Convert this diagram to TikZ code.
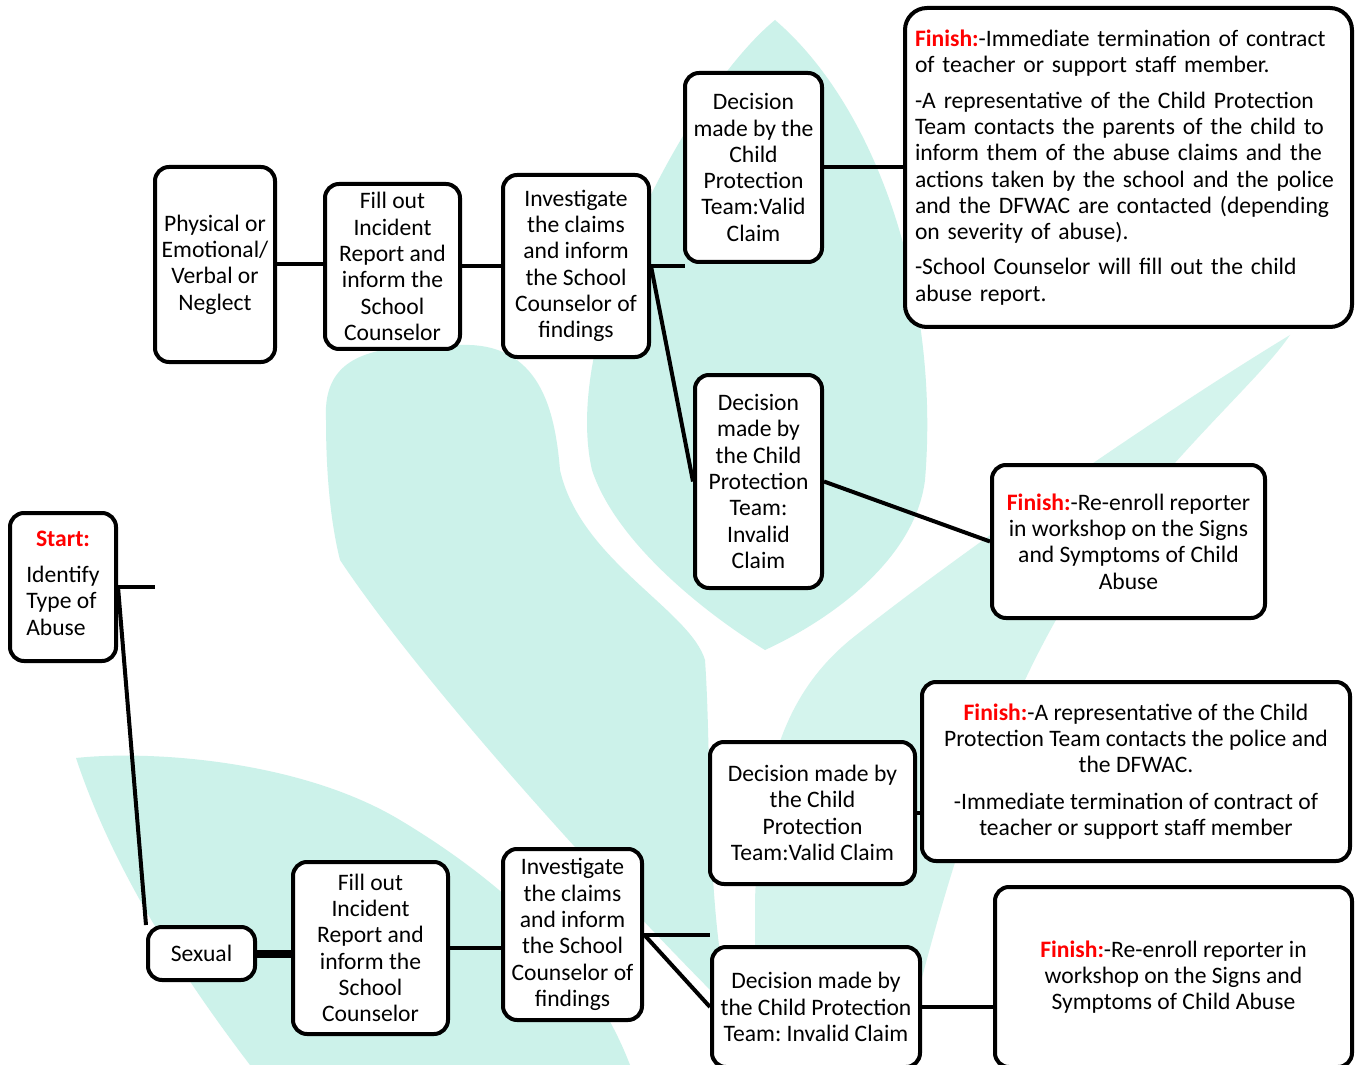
\documentclass[tikz,border=0pt]{standalone}
\usepackage{fontspec}
\setmainfont{Carlito}
\usepackage{tikz}
\definecolor{leaf}{RGB}{204,242,234}
\frenchspacing

\begin{document}
\begin{tikzpicture}[x=0.5pt, y=-0.5pt,
    box/.style={draw, line width=2pt, rounded corners=7pt, fill=white, align=center, inner sep=0pt},
    wire/.style={line width=2pt},
    font=\fontsize{11.8}{13.15}\selectfont]

    \useasboundingbox (0,0) rectangle (1357,1065);
    \fill [white] (0,0) rectangle (1357,1065);

    % watermark leaves behind the chart
    \fill [leaf] (775,20) .. controls (880,110) and (940,300) .. (925,480)
        .. controls (915,560) and (830,620) .. (765,650)
        .. controls (700,610) and (615,540) .. (592,470)
        .. controls (560,330) and (690,90) .. (775,20);
    \fill [leaf] (326,420) .. controls (322,350) and (380,345) .. (460,345)
        .. controls (540,342) and (555,410) .. (560,470)
        .. controls (580,560) and (690,610) .. (705,660)
        .. controls (712,760) and (705,900) .. (730,1010)
        .. controls (600,880) and (420,680) .. (340,560)
        .. controls (330,520) and (326,470) .. (326,420);
    \fill [leaf] (76,758) .. controls (150,750) and (300,760) .. (400,820)
        .. controls (500,880) and (590,960) .. (630,1065) -- (250,1065)
        .. controls (170,960) and (110,860) .. (76,758);
    \fill [leaf!85] (1290,335) .. controls (1150,420) and (950,560) .. (850,640)
        .. controls (790,690) and (760,760) .. (755,900) -- (755,1065) -- (900,1065)
        .. controls (940,900) and (990,720) .. (1080,580)
        .. controls (1170,455) and (1260,380) .. (1290,335);

    % start
    \node [box, minimum width=53pt, minimum height=74pt] (start) at (63,587)
        {\textcolor{red}{\textbf{Start:}}\\[5pt]
         \begin{tabular}[t]{@{}l@{}}Identify\\ Type of\\ Abuse\end{tabular}};

    % physical / emotional / verbal / neglect branch
    \node [box, minimum width=60pt, minimum height=97.5pt] (phys) at (215,264.5)
        {Physical or\\ Emotional/\\ Verbal or\\ Neglect};
    \node [box, minimum width=67.5pt, minimum height=82.5pt] (fill1) at (392.5,266.5)
        {Fill out\\ Incident\\ Report and\\ inform the\\ School\\ Counselor};
    \node [box, minimum width=73pt, minimum height=91pt] (inv1) at (576,266)
        {Investigate\\ the claims\\ and inform\\ the School\\ Counselor of\\ findings};
    \node [box, minimum width=68.5pt, minimum height=94.5pt] (valid1) at (753.5,167.5)
        {Decision\\ made by the\\ Child\\ Protection\\ Team:Valid\\ Claim};
    \node [box, rounded corners=11pt, align=left, text width=213.5pt, inner xsep=5pt,
           minimum width=223.5pt, minimum height=159.5pt] (fin1) at (1128.5,167.5)
        {\textcolor{red}{\textbf{Finish:}}-Immediate termination of contract\\
         of teacher or support staff member.\\[4.5pt]
         -A representative of the Child Protection\\
         Team contacts the parents of the child to\\
         inform them of the abuse claims and the\\
         actions taken by the school and the police\\
         and the DFWAC are contacted (depending\\
         on severity of abuse).\\[4.5pt]
         -School Counselor will fill out the child\\
         abuse report.};
    \node [box, minimum width=63.5pt, minimum height=106.5pt] (invalid1) at (758.5,481.5)
        {Decision\\ made by\\ the Child\\ Protection\\ Team:\\ Invalid\\ Claim};
    \node [box, minimum width=136.5pt, minimum height=76.5pt] (fin2) at (1128.5,541.5)
        {\textcolor{red}{\textbf{Finish:}}-Re-enroll reporter\\ in workshop on the Signs\\
         and Symptoms of Child\\ Abuse};

    % sexual branch
    \node [box, minimum width=53.5pt, minimum height=26.5pt] (sexual) at (201.5,953.5) {Sexual};
    \node [box, minimum width=77.5pt, minimum height=86pt] (fill2) at (370.5,948)
        {Fill out\\ Incident\\ Report and\\ inform the\\ School\\ Counselor};
    \node [box, minimum width=69.5pt, minimum height=85.5pt] (inv2) at (572.5,934.5)
        {Investigate\\ the claims\\ and inform\\ the School\\ Counselor of\\ findings};
    \node [box, minimum width=102.5pt, minimum height=71pt] (valid2) at (812.5,813)
        {Decision made by\\ the Child\\ Protection\\ Team:Valid Claim};
    \node [box, minimum width=214pt, minimum height=89.5pt] (fin3) at (1136,771.5)
        {\textcolor{red}{\textbf{Finish:}}-A representative of the Child\\
         Protection Team contacts the police and\\ the DFWAC.\\[5pt]
         -Immediate termination of contract of\\ teacher or support staff member};
    \node [box, minimum width=104pt, minimum height=60pt] (invalid2) at (816,1007)
        {Decision made by\\ the Child Protection\\ Team: Invalid Claim};
    \node [box, minimum width=178.5pt, minimum height=90pt] (fin4) at (1173.5,977)
        {\textcolor{red}{\textbf{Finish:}}-Re-enroll reporter in\\ workshop on the Signs and\\
         Symptoms of Child Abuse};

    % loose ends
    \coordinate (startend) at (155,587);
    \coordinate (inv1end) at (685,266);
    \coordinate (inv2end) at (710,934.5);

    % connectors
    \draw [wire] (start.east) -- (startend);
    \draw [wire] (start.east) -- (sexual.north west);
    \draw [line width=4pt] (sexual.east) -- (sexual.east -| fill2.west);

    \draw [wire] (phys.east) -- (phys.east -| fill1.west);
    \draw [wire] (fill1.east) -- (fill1.east -| inv1.west);
    \draw [wire] (inv1.east) -- (inv1end);
    \draw [wire] (inv1.east) -- (invalid1.west);
    \draw [wire] (valid1.east) -- (fin1.west);
    \draw [wire] (invalid1.east) -- (fin2.west);

    \draw [wire] (fill2.east) -- (fill2.east -| inv2.west);
    \draw [wire] (inv2.east) -- (inv2end);
    \draw [wire] (inv2.east) -- (invalid2.west);
    \draw [wire] (valid2.east) -- (valid2.east -| fin3.west);
    \draw [wire] (invalid2.east) -- (invalid2.east -| fin4.west);
\end{tikzpicture}
\end{document}
